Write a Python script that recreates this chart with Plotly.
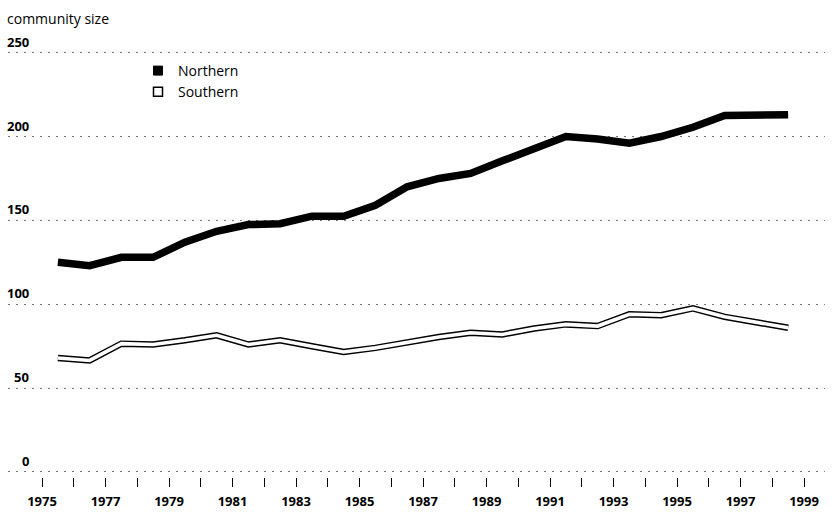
import plotly.graph_objects as go

# ---- data ----
years = [1975.5 + i for i in range(24)]  # mid-year positions 1975.5 ... 1998.5
northern = [125, 123, 128, 128, 137, 143.5, 147.5, 148, 152.5, 152.5, 159, 170,
            175, 178, 185.5, 193, 200, 198.5, 196, 200, 205.5, 212.5, 213, 213]
southern = [68, 66.5, 76.5, 76, 78.5, 81.5, 76, 78.5, 75, 71.5, 74, 77.5,
            80.5, 83, 82, 85.5, 88, 87, 94, 93.5, 97.5, 92.5, 89.5, 86]
y_ticks = [0, 50, 100, 150, 200, 250]
x_tick_years = list(range(1975, 2000))
x_tick_labels = [str(y) if (y - 1975) % 2 == 0 else "" for y in x_tick_years]
series_names = ["Northern", "Southern"]
y_title = "community size"

W, H = 833, 529
ml, mr, mt, mb = 8, 8, 51, 52
plot_w = W - ml - mr
plot_h = H - mt - mb

fig = go.Figure()

# Northern: thick solid black line
fig.add_trace(go.Scatter(x=years, y=northern, mode="lines",
                         line=dict(color="black", width=7.5),
                         showlegend=False, hoverinfo="skip"))
# Southern: double line (black outline with white core)
fig.add_trace(go.Scatter(x=years, y=southern, mode="lines",
                         line=dict(color="black", width=6.5),
                         showlegend=False, hoverinfo="skip"))
fig.add_trace(go.Scatter(x=years, y=southern, mode="lines",
                         line=dict(color="white", width=3.6),
                         showlegend=False, hoverinfo="skip"))

# legend entries (square symbols)
fig.add_trace(go.Scatter(x=[None], y=[None], mode="markers", name=series_names[0],
                         marker=dict(symbol="square", size=9, color="black",
                                     line=dict(color="black", width=1))))
fig.add_trace(go.Scatter(x=[None], y=[None], mode="markers", name=series_names[1],
                         marker=dict(symbol="square", size=9, color="white",
                                     line=dict(color="black", width=1.5))))

# y tick labels placed above gridlines, right-aligned
for v in y_ticks:
    fig.add_annotation(x=(31 - ml) / plot_w, xref="paper", xanchor="right",
                       y=v, yref="y", yanchor="bottom", yshift=0,
                       text=f"<b>{v}</b>", showarrow=False,
                       font=dict(size=13, color="black"))

# axis title (top-left)
fig.add_annotation(x=(5 - ml) / plot_w, xref="paper", xanchor="left",
                   y=1 + (mt - 18) / plot_h, yref="paper", yanchor="middle",
                   text=y_title, showarrow=False,
                   font=dict(size=14, color="black"))

px_per_year = 31.75
x0 = 1975 - (42 - ml) / px_per_year
x1 = x0 + plot_w / px_per_year

fig.update_layout(
    width=W, height=H,
    margin=dict(l=ml, r=mr, t=mt, b=mb),
    paper_bgcolor="white", plot_bgcolor="white",
    font=dict(family="Open Sans, Noto Sans, sans-serif", color="black"),
    legend=dict(x=(138 - ml) / plot_w, xanchor="left", y=1 - (55 - mt) / plot_h,
                yanchor="top", font=dict(size=14, color="black"),
                bgcolor="rgba(0,0,0,0)", tracegroupgap=0, itemwidth=30),
    xaxis=dict(range=[x0, x1], tickmode="array", tickvals=x_tick_years,
               ticktext=x_tick_labels, ticks="outside", ticklen=9,
               tickcolor="black", tickwidth=1, showgrid=False, zeroline=False,
               showline=False, ticklabelstandoff=3,
               tickfont=dict(size=13, color="black", weight="bold")),
    yaxis=dict(range=[-3, 251], tickmode="array", tickvals=y_ticks,
               showticklabels=False, showgrid=True, gridcolor="#777",
               gridwidth=1, griddash="2px,6px", zeroline=False, showline=False,
               ticks=""),
)

fig.write_html("out.html", config={"displayModeBar": False},
               post_script="document.body.style.margin='0px';")
